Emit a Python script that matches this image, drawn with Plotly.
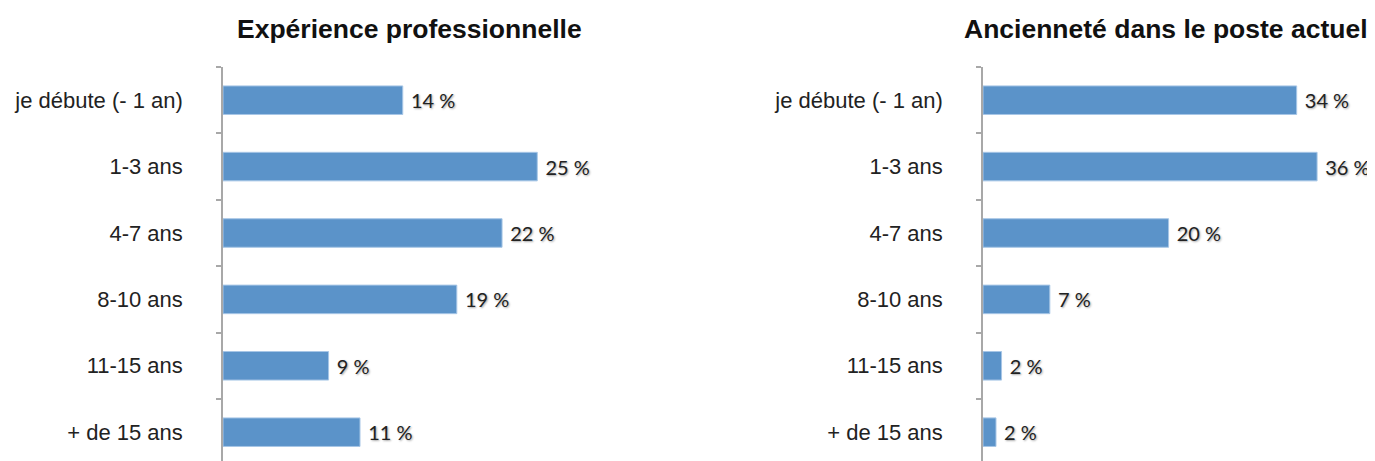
import plotly.graph_objects as go

categories = ["je débute (- 1 an)", "1-3 ans", "4-7 ans", "8-10 ans", "11-15 ans", "+ de 15 ans"]
experience_values = [14.3, 25.0, 22.2, 18.6, 8.4, 10.9]
experience_labels = ["14 %", "25 %", "22 %", "19 %", "9 %", "11 %"]
anciennete_values = [33.8, 36.0, 20.0, 7.2, 2.0, 1.4]
anciennete_labels = ["34 %", "36 %", "20 %", "7 %", "2 %", "2 %"]
titles = ["Expérience professionnelle", "Ancienneté dans le poste actuel"]

OFF = 8  # page body margin in the browser
W, H = 1375 - OFF, 461 - OFF
BAR = "#5b93c9"
BAR_LINE = "#a7c6e6"
PAD = "\u00a0"


def px_x(x):
    return (x - OFF) / W


def px_y(y):
    return 1 - (y - OFF) / H


fig = go.Figure()


def add_bar(vals, labels, xa, ya):
    fig.add_trace(go.Bar(
        y=categories, x=vals, orientation="h",
        text=[PAD + t for t in labels],
        textposition="outside", cliponaxis=False,
        textfont=dict(family="Lato, Open Sans, sans-serif", size=20, color="#222222",
                      shadow="1px 1px 2px rgba(0,0,0,0.35)"),
        marker=dict(color=BAR, line=dict(color=BAR_LINE, width=1)),
        width=0.43, xaxis=xa, yaxis=ya, showlegend=False, hoverinfo="skip",
    ))


add_bar(experience_values, experience_labels, "x", "y")
add_bar(anciennete_values, anciennete_labels, "x2", "y2")

ytop = px_y(67)
yrange = [5.434, -0.5]
yaxis_common = dict(
    type="category", range=yrange, domain=[0, ytop],
    showline=True, linecolor="#a8a8a8", linewidth=1.5,
    ticks="outside", tickson="boundaries", ticklen=5, tickcolor="#a8a8a8", tickwidth=1.5,
    tickfont=dict(family="Liberation Sans, Arial, sans-serif", size=22, color="#222222"),
    ticklabelstandoff=34, showgrid=False, zeroline=False, automargin=False,
    categoryorder="array", categoryarray=categories, fixedrange=True,
)
xaxis_common = dict(visible=False, showgrid=False, zeroline=False, fixedrange=True)

fig.update_layout(
    width=W, height=H,
    margin=dict(l=0, r=0, t=0, b=0),
    paper_bgcolor="white", plot_bgcolor="white",
    xaxis=dict(domain=[px_x(223), px_x(600)], range=[0, 377 / 12.57], **xaxis_common),
    xaxis2=dict(domain=[px_x(983), px_x(1370)], range=[0, 387 / 9.28], anchor="y2", **xaxis_common),
    yaxis=dict(anchor="x", **yaxis_common),
    yaxis2=dict(anchor="x2", **yaxis_common),
    bargap=0.57,
)

title_x = [px_x(409), px_x(1166)]
for t, xp in zip(titles, title_x):
    fig.add_annotation(
        text="<b>" + t + "</b>", x=xp, y=px_y(29), xref="paper", yref="paper",
        xanchor="center", yanchor="middle", showarrow=False,
        font=dict(family="Liberation Sans, Arial, sans-serif", size=26.5, color="#111111"),
    )

fig.write_html("out.html")
